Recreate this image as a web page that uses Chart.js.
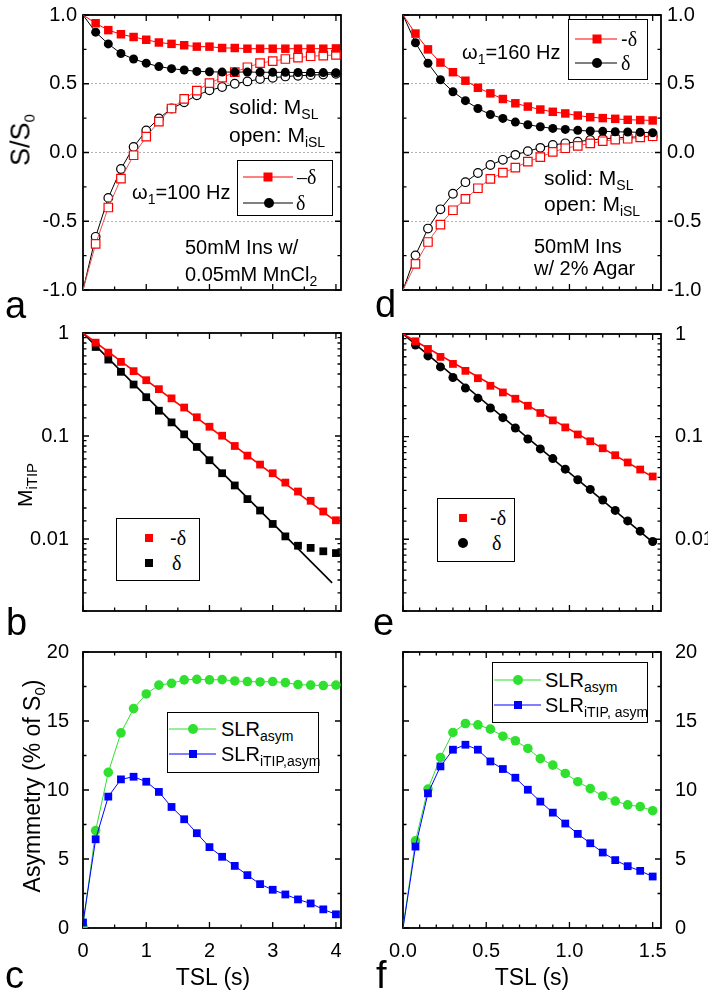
<!DOCTYPE html>
<html>
<head>
<meta charset="utf-8">
<script src="https://cdn.jsdelivr.net/npm/chart.js@4/dist/chart.umd.min.js"></script>
<style>
  body { margin: 0; background: #fff; }
  #fig { position: relative; width: 708px; height: 1000px; overflow: hidden;
         font-family: "Liberation Sans", Arial, sans-serif; color: #000; }
  .panel { position: absolute; }
  .txt { position: absolute; font-size: 20px; line-height: 1; white-space: nowrap; }
  .txt sub { font-size: 14px; vertical-align: -5px; line-height: 0; }
  .gk { font-family: "Liberation Serif", "DejaVu Serif", serif; }
  .letter { position: absolute; font-size: 38px; line-height: 1; }
  .rot { position: absolute; font-size: 23px; line-height: 1; white-space: nowrap;
         transform: translate(-50%, -50%) rotate(-90deg); }
  .rot sub { font-size: 15px; vertical-align: -5px; line-height: 0; }
  .legend { position: absolute; border: 1px solid #000; background: #fff; box-sizing: border-box; }
</style>
</head>
<body>
<div id="fig"></div>
<script>
// TSL sampling (s)
const tslA = [0, 0.2, 0.4, 0.6, 0.8, 1.0, 1.2, 1.4, 1.6, 1.8, 2.0, 2.2, 2.4, 2.6, 2.8, 3.0, 3.2, 3.4, 3.6, 3.8, 4.0];
const tslD = [0, 0.075, 0.15, 0.225, 0.3, 0.375, 0.45, 0.525, 0.6, 0.675, 0.75, 0.825, 0.9, 0.975, 1.05, 1.125, 1.2, 1.275, 1.35, 1.425, 1.5];

// panel a: 50mM Ins w/ 0.05mM MnCl2, w1 = 100 Hz
const mslMinusA  = [1.0, 0.94, 0.89, 0.86, 0.84, 0.82, 0.80, 0.79, 0.78, 0.77, 0.77, 0.76, 0.76, 0.755, 0.755, 0.755, 0.755, 0.755, 0.755, 0.755, 0.757];
const mslPlusA   = [1.0, 0.875, 0.79, 0.72, 0.68, 0.65, 0.625, 0.61, 0.60, 0.59, 0.587, 0.585, 0.585, 0.585, 0.584, 0.583, 0.583, 0.582, 0.582, 0.581, 0.58];
const misLMinusA = [-1.0, -0.665, -0.40, -0.19, -0.02, 0.115, 0.225, 0.32, 0.39, 0.45, 0.505, 0.545, 0.585, 0.62, 0.65, 0.665, 0.68, 0.69, 0.70, 0.705, 0.71];
const misLPlusA  = [-1.0, -0.613, -0.33, -0.12, 0.04, 0.16, 0.248, 0.32, 0.365, 0.416, 0.452, 0.476, 0.50, 0.517, 0.534, 0.543, 0.553, 0.558, 0.5625, 0.567, 0.572];

// panel d: 50mM Ins w/ 2% Agar, w1 = 160 Hz
const mslMinusD  = [1.0, 0.865, 0.75, 0.654, 0.584, 0.522, 0.471, 0.43, 0.389, 0.358, 0.334, 0.3125, 0.296, 0.284, 0.269, 0.257, 0.25, 0.245, 0.238, 0.236, 0.233];
const mslPlusD   = [1.0, 0.798, 0.649, 0.529, 0.442, 0.377, 0.32, 0.276, 0.248, 0.221, 0.202, 0.1875, 0.175, 0.168, 0.161, 0.156, 0.154, 0.151, 0.149, 0.147, 0.144];
const misLMinusD = [-1.0, -0.81, -0.651, -0.524, -0.42, -0.337, -0.26, -0.192, -0.147, -0.11, -0.067, -0.034, 0.005, 0.031, 0.048, 0.067, 0.082, 0.094, 0.10, 0.11, 0.118];
const misLPlusD  = [-1.0, -0.748, -0.553, -0.413, -0.30, -0.216, -0.149, -0.091, -0.053, -0.017, 0.01, 0.034, 0.055, 0.067, 0.079, 0.091, 0.099, 0.106, 0.11, 0.115, 0.118];

// panels b, e: M_iTIP (log)
const itipMinusB = [null, 0.806, 0.645, 0.524, 0.426, 0.348, 0.285, 0.232, 0.189, 0.152, 0.123, 0.1007, 0.08, 0.0645, 0.0528, 0.0435, 0.0353, 0.0289, 0.0235, 0.0185, 0.0152];
const itipPlusB  = [null, 0.732, 0.552, 0.42, 0.316, 0.238, 0.176, 0.1356, 0.1038, 0.0783, 0.0582, 0.0435, 0.0331, 0.0244, 0.0189, 0.014, 0.0106, 0.0086, 0.0082, 0.0076, 0.0073];
const itipMinusE = [null, 0.849, 0.715, 0.598, 0.511, 0.4375, 0.371, 0.313, 0.2695, 0.234, 0.2, 0.17, 0.144, 0.123, 0.105, 0.0901, 0.077, 0.0659, 0.056, 0.0478, 0.0409];
const itipPlusE  = [null, 0.782, 0.6115, 0.478, 0.377, 0.297, 0.237, 0.19, 0.153, 0.1214, 0.0949, 0.0759, 0.0611, 0.0482, 0.038, 0.0306, 0.0241, 0.0191, 0.0151, 0.012, 0.0095];
// mono-exponential fit lines (end points)
const fitMinusB = [{ x: 0, y: 1 }, { x: 4.0, y: 0.0148 }];
const fitPlusB  = [{ x: 0, y: 1 }, { x: 3.94, y: 0.00375 }];
const fitMinusE = [{ x: 0, y: 1 }, { x: 1.5, y: 0.0405 }];
const fitPlusE  = [{ x: 0, y: 1 }, { x: 1.5, y: 0.0094 }];

// panels c, f: asymmetry (% of S0)
const asymC     = [0.1, 7.06, 11.28, 14.14, 15.9, 16.96, 17.6, 17.73, 17.98, 18.02, 17.98, 18.0, 17.9, 17.86, 17.83, 17.86, 17.78, 17.64, 17.6, 17.57, 17.6];
const itipAsymC = [0.4, 6.43, 9.52, 10.77, 10.96, 10.6, 9.86, 8.77, 7.88, 6.87, 5.86, 5.16, 4.5, 3.83, 3.18, 2.77, 2.43, 2.07, 1.78, 1.35, 0.99];
const asymF     = [0, 6.31, 10.07, 12.36, 14.17, 14.82, 14.72, 14.41, 13.9, 13.57, 13.01, 12.27, 11.8, 11.2, 10.6, 10.1, 9.57, 9.2, 8.92, 8.8, 8.5];
const itipAsymF = [0, 5.9, 9.76, 11.71, 12.92, 13.28, 12.92, 12.07, 11.52, 10.89, 10.02, 9.16, 8.36, 7.57, 6.82, 6.14, 5.47, 4.92, 4.48, 4.14, 3.73];

const RED = '#ff0000', RED_LIGHT = '#e85050', BLACK = '#000000', GREEN = '#2fe02f', BLUE = '#0000ff';
const FONT = "'Liberation Sans', Arial, sans-serif";
const TOP_PAD = 22;
const fig = document.getElementById('fig');

const pts = (xs, ys) => xs.map((x, i) => ({ x, y: ys[i] }));
const skipFirst = r => ctx => (ctx.dataIndex === 0 ? 0 : r);

function isDecade(v) {
  const l = Math.log10(v);
  return Math.abs(l - Math.round(l)) < 1e-6;
}

function tickList(scale, minorStep) {
  if (scale.type === 'logarithmic') {
    return scale.ticks.map(t => ({ v: t.value, major: isDecade(t.value) }));
  }
  const out = scale.ticks.map(t => ({ v: t.value, major: true }));
  for (let v = Math.ceil(scale.min / minorStep - 1e-9) * minorStep; v <= scale.max + 1e-9; v += minorStep) {
    if (!out.some(t => Math.abs(t.v - v) < minorStep / 10)) out.push({ v, major: false });
  }
  return out;
}

// frame round the plot and inward ticks on all four sides
const frameTicks = {
  id: 'frameTicks',
  beforeDatasetsDraw(chart, args, opts) {
    const { ctx, chartArea: a, scales } = chart;
    ctx.save();
    ctx.strokeStyle = '#000';
    ctx.lineWidth = 1.3;
    ctx.beginPath();
    tickList(scales.x, opts.xMinor).forEach(t => {
      const p = scales.x.getPixelForValue(t.v);
      const len = t.major ? 6 : 3.5;
      ctx.moveTo(p, a.bottom); ctx.lineTo(p, a.bottom - len);
      ctx.moveTo(p, a.top); ctx.lineTo(p, a.top + len);
    });
    tickList(scales.y, opts.yMinor).forEach(t => {
      const p = scales.y.getPixelForValue(t.v);
      const len = t.major ? 6 : 3.5;
      ctx.moveTo(a.left, p); ctx.lineTo(a.left + len, p);
      ctx.moveTo(a.right, p); ctx.lineTo(a.right - len, p);
    });
    ctx.stroke();
    ctx.lineWidth = 1.8;
    ctx.strokeRect(a.left, a.top, a.right - a.left, a.bottom - a.top);
    ctx.restore();
  }
};

const tickFont = { family: FONT, size: 20 };

function xAxis(max, step, fmt, show) {
  return {
    type: 'linear', min: 0, max: max,
    afterFit: s => { s.height = 50; },
    grid: { display: false }, border: { display: false },
    ticks: { display: show, stepSize: step, includeBounds: false, autoSkip: false, maxRotation: 0,
             padding: 3, color: '#000', font: tickFont, callback: fmt }
  };
}

function yLinear(min, max, step, fmt, right, dotted) {
  return {
    type: 'linear', position: right ? 'right' : 'left', min: min, max: max,
    afterFit: s => { s.width = 60; },
    grid: dotted ? {
      drawTicks: false, lineWidth: 1,
      color: c => (c.tick && Math.abs(c.tick.value) < 0.9 ? '#b4b4b4' : 'rgba(0,0,0,0)')
    } : { display: false },
    border: { display: false, dash: [2, 2] },
    ticks: { stepSize: step, autoSkip: false, padding: 6, color: '#000', font: tickFont, callback: fmt }
  };
}

function yLog(right) {
  return {
    type: 'logarithmic', position: right ? 'right' : 'left', min: 0.002, max: 1,
    afterFit: s => { s.width = 60; },
    grid: { display: false }, border: { display: false },
    ticks: { autoSkip: false, padding: 6, color: '#000', font: tickFont,
             callback: v => (isDecade(v) && v >= 0.009 ? String(Number(v.toPrecision(2))) : '') }
  };
}

function makePanel(id, box, right, datasets, xs, ys, minor) {
  const wrap = document.createElement('div');
  wrap.className = 'panel';
  Object.assign(wrap.style, {
    left: (box.L - 60) + 'px', top: (box.T - TOP_PAD) + 'px',
    width: (box.R - box.L + 120) + 'px', height: (box.B - box.T + TOP_PAD + 50) + 'px'
  });
  const cv = document.createElement('canvas');
  cv.id = id;
  wrap.appendChild(cv);
  fig.appendChild(wrap);
  new Chart(cv, {
    type: 'line',
    data: { datasets },
    options: {
      responsive: true, maintainAspectRatio: false, animation: false,
      layout: { padding: { top: TOP_PAD, bottom: 0, left: right ? 60 : 0, right: right ? 0 : 60 } },
      plugins: { legend: { display: false }, tooltip: { enabled: false }, frameTicks: minor },
      scales: { x: xs, y: ys }
    },
    plugins: [frameTicks]
  });
}

function series(xs, ys, o) {
  return {
    data: pts(xs, ys),
    borderColor: o.line || o.color, borderWidth: o.lw || 1,
    showLine: o.showLine !== false,
    pointStyle: o.style, pointRadius: o.r,
    pointBackgroundColor: o.open ? '#fff' : o.color,
    pointBorderColor: o.color, pointBorderWidth: o.open ? 1.2 : 0,
    tension: 0, spanGaps: false
  };
}

function fitLine(data, color) {
  return { data, borderColor: color, borderWidth: 1.6, pointRadius: 0, tension: 0 };
}

const fmt1 = v => Number(v).toFixed(1);
const fmt0 = v => String(v);

// a
makePanel('chart-a', { L: 83, T: 15, R: 341, B: 290 }, false, [
  series(tslA, mslMinusA, { color: RED, style: 'rect', r: skipFirst(6) }),
  series(tslA, mslPlusA, { color: BLACK, style: 'circle', r: skipFirst(4.5) }),
  series(tslA, misLMinusA, { color: RED, line: RED_LIGHT, style: 'rect', r: skipFirst(6), open: true }),
  series(tslA, misLPlusA, { color: BLACK, style: 'circle', r: skipFirst(4.3), open: true })
], xAxis(4.08, 1, fmt0, false), yLinear(-1, 1, 0.5, fmt1, false, true), { xMinor: 0.5, yMinor: 0.25 });

// d
makePanel('chart-d', { L: 403, T: 15, R: 661, B: 290 }, true, [
  series(tslD, mslMinusD, { color: RED, style: 'rect', r: skipFirst(6) }),
  series(tslD, mslPlusD, { color: BLACK, style: 'circle', r: skipFirst(4.5) }),
  series(tslD, misLMinusD, { color: RED, line: RED_LIGHT, style: 'rect', r: skipFirst(6), open: true }),
  series(tslD, misLPlusD, { color: BLACK, style: 'circle', r: skipFirst(4.3), open: true })
], xAxis(1.55, 0.5, fmt1, false), yLinear(-1, 1, 0.5, fmt1, true, true), { xMinor: 0.1, yMinor: 0.25 });

// b
makePanel('chart-b', { L: 83, T: 333, R: 341, B: 611 }, false, [
  series(tslA, itipMinusB, { color: RED, style: 'rect', r: 5.5, showLine: false }),
  series(tslA, itipPlusB, { color: BLACK, style: 'rect', r: 5.5, showLine: false }),
  fitLine(fitMinusB, RED),
  fitLine(fitPlusB, BLACK)
], xAxis(4.08, 1, fmt0, false), yLog(false), { xMinor: 0.5 });

// e
makePanel('chart-e', { L: 403, T: 334, R: 661, B: 611 }, true, [
  series(tslD, itipMinusE, { color: RED, style: 'rect', r: 5.5, showLine: false }),
  series(tslD, itipPlusE, { color: BLACK, style: 'circle', r: 4.5, showLine: false }),
  fitLine(fitMinusE, RED),
  fitLine(fitPlusE, BLACK)
], xAxis(1.55, 0.5, fmt1, false), yLog(true), { xMinor: 0.1 });

// c
makePanel('chart-c', { L: 83, T: 652, R: 341, B: 928 }, false, [
  series(tslA, itipAsymC, { color: BLUE, style: 'rect', r: 5.5 }),
  series(tslA, asymC, { color: GREEN, style: 'circle', r: 4.8 })
], xAxis(4.08, 1, fmt0, true), yLinear(0, 20, 5, fmt0, false, false), { xMinor: 0.5, yMinor: 2.5 });

// f
makePanel('chart-f', { L: 403, T: 652, R: 661, B: 928 }, true, [
  series(tslD, itipAsymF, { color: BLUE, style: 'rect', r: skipFirst(5.5) }),
  series(tslD, asymF, { color: GREEN, style: 'circle', r: skipFirst(4.8) })
], xAxis(1.55, 0.5, fmt1, true), yLinear(0, 20, 5, fmt0, true, false), { xMinor: 0.1, yMinor: 2.5 });

// ---- text overlays ----
function addText(cls, left, top, html, extra) {
  const d = document.createElement('div');
  d.className = cls;
  d.style.left = left + 'px';
  d.style.top = top + 'px';
  if (extra) Object.assign(d.style, extra);
  d.innerHTML = html;
  fig.appendChild(d);
}

addText('txt', 229, 96, 'solid: M<sub>SL</sub>', { fontSize: '21px' });
addText('txt', 229, 124, 'open: M<sub>iSL</sub>', { fontSize: '21px' });
addText('txt', 132, 182, '&omega;<sub>1</sub>=100 Hz');
addText('txt', 185, 237, '50mM Ins w/');
addText('txt', 185, 264, '0.05mM MnCl<sub>2</sub>');

addText('txt', 462, 42, '&omega;<sub>1</sub>=160 Hz');
addText('txt', 544, 167, 'solid: M<sub>SL</sub>', { fontSize: '21px' });
addText('txt', 544, 193, 'open: M<sub>iSL</sub>', { fontSize: '21px' });
addText('txt', 534, 236, '50mM Ins');
addText('txt', 534, 258, 'w/ 2% Agar');

addText('rot', 21, 140, 'S/S<sub>0</sub>', { fontSize: '27px' });
addText('rot', 24, 485, 'M<sub>iTIP</sub>', { fontSize: '21px' });
addText('rot', 32, 786, 'Asymmetry (% of S<sub>0</sub>)');
addText('txt', 213, 966, 'TSL (s)', { fontSize: '23px', transform: 'translateX(-50%)' });
addText('txt', 532, 966, 'TSL (s)', { fontSize: '23px', transform: 'translateX(-50%)' });

addText('letter', 5, 286, 'a');
addText('letter', 375, 285, 'd');
addText('letter', 6, 603, 'b');
addText('letter', 373, 603, 'e');
addText('letter', 5, 956, 'c');
addText('letter', 376, 956, 'f');

// ---- legends ----
function marker(kind, cx, s, color) {
  return kind === 'rect'
    ? `<rect x="${cx - s / 2}" y="${7 - s / 2}" width="${s}" height="${s}" fill="${color}"/>`
    : `<circle cx="${cx}" cy="7" r="${s / 2}" fill="${color}"/>`;
}

function addLegend(b, rows) {
  const d = document.createElement('div');
  d.className = 'legend';
  Object.assign(d.style, { left: b.l + 'px', top: b.t + 'px', width: b.w + 'px', height: b.h + 'px' });
  rows.forEach(r => {
    let svg = `<svg style="position:absolute;left:0;top:${r.y - 7}px" width="${b.w - 2}" height="14">`;
    if (r.x1) svg += `<line x1="${r.x0}" y1="7" x2="${r.x1}" y2="7" stroke="${r.color}" stroke-width="1"/>`;
    svg += marker(r.kind, r.mx, r.s, r.color) + '</svg>';
    d.insertAdjacentHTML('beforeend', svg +
      `<div class="txt" style="left:${r.tx}px;top:${r.y - 10}px">${r.html}</div>`);
  });
  fig.appendChild(d);
}

addLegend({ l: 237, t: 160, w: 96, h: 56 }, [
  { y: 16, x0: 5, x1: 55, mx: 30, kind: 'rect', s: 9, color: RED, tx: 59, html: '<span class="gk">&ndash;&delta;</span>' },
  { y: 42, x0: 5, x1: 55, mx: 31, kind: 'circle', s: 10, color: BLACK, tx: 58, html: '<span class="gk">&delta;</span>' }
]);
addLegend({ l: 568, t: 19, w: 80, h: 61 }, [
  { y: 19, x0: 6, x1: 48, mx: 28, kind: 'rect', s: 9, color: RED, tx: 52, html: '-<span class="gk">&delta;</span>' },
  { y: 43, x0: 6, x1: 48, mx: 28, kind: 'circle', s: 10, color: BLACK, tx: 52, html: '<span class="gk">&delta;</span>' }
]);
addLegend({ l: 116, t: 518, w: 84, h: 63 }, [
  { y: 19, mx: 32, kind: 'rect', s: 8, color: RED, tx: 53, html: '-<span class="gk">&delta;</span>' },
  { y: 44, mx: 32, kind: 'rect', s: 8, color: BLACK, tx: 55, html: '<span class="gk">&delta;</span>' }
]);
addLegend({ l: 437, t: 498, w: 78, h: 64 }, [
  { y: 19, mx: 25, kind: 'rect', s: 8, color: RED, tx: 52, html: '-<span class="gk">&delta;</span>' },
  { y: 44, mx: 25, kind: 'circle', s: 10, color: BLACK, tx: 54, html: '<span class="gk">&delta;</span>' }
]);
addLegend({ l: 167, t: 712, w: 152, h: 61 }, [
  { y: 16, x0: 1, x1: 48, mx: 25, kind: 'circle', s: 10, color: GREEN, tx: 53, html: 'SLR<sub>asym</sub>' },
  { y: 41, x0: 1, x1: 48, mx: 25, kind: 'rect', s: 8, color: BLUE, tx: 53, html: 'SLR<sub>iTIP,asym</sub>' }
]);
addLegend({ l: 492, t: 662, w: 156, h: 61 }, [
  { y: 17, x0: 1, x1: 48, mx: 25, kind: 'circle', s: 10, color: GREEN, tx: 52, html: 'SLR<sub>asym</sub>' },
  { y: 42, x0: 1, x1: 48, mx: 25, kind: 'rect', s: 8, color: BLUE, tx: 52, html: 'SLR<sub>iTIP, asym</sub>' }
]);
</script>
</body>
</html>
